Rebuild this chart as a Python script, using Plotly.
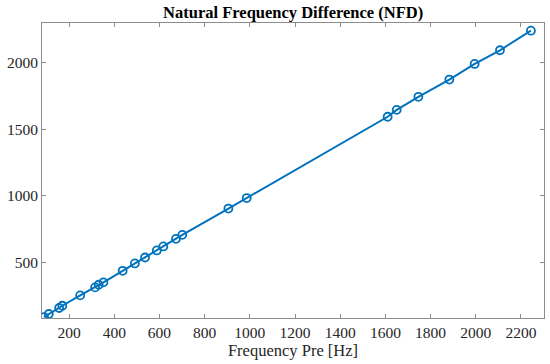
import plotly.graph_objects as go

freq_pre = [89, 110, 156, 170, 249, 315, 331, 352, 437, 491, 536, 588, 617, 673, 701,
            905, 986, 1610, 1650, 1746, 1883, 1995, 2107, 2244]
nfd = [87, 110, 155, 172, 250, 310, 330, 348, 435, 490, 535, 588, 618, 675, 705,
       903, 982, 1593, 1645, 1743, 1873, 1990, 2093, 2240]

x_ticks = [200, 400, 600, 800, 1000, 1200, 1400, 1600, 1800, 2000, 2200]
y_ticks = [500, 1000, 1500, 2000]

color = "#0072BD"
font_family = "Liberation Serif, DejaVu Serif, serif"

fig = go.Figure()
fig.add_trace(go.Scatter(
    x=freq_pre, y=nfd, mode="lines+markers",
    line=dict(color=color, width=2),
    marker=dict(symbol="circle-open", size=8, color=color, line=dict(width=1.8, color=color)),
    showlegend=False,
))

axis_common = dict(
    showgrid=False, zeroline=False, showline=True, mirror="ticks",
    linecolor="#8c8c8c", linewidth=1, ticks="inside", ticklen=4,
    tickcolor="#8c8c8c", tickfont=dict(family=font_family, size=15.5, color="#262626"),
    automargin=False,
)

fig.update_layout(
    width=550, height=364,
    margin=dict(l=42, r=6, t=23, b=46),
    plot_bgcolor="white", paper_bgcolor="white",
    title=dict(text="<b>Natural Frequency Difference (NFD)</b>", x=0.533, xanchor="center",
               y=0.967, yanchor="middle",
               font=dict(family=font_family, size=16.5, color="black")),
    xaxis=dict(range=[80, 2302], tickvals=x_ticks,
               title=dict(text="Frequency Pre [Hz]", standoff=2,
                          font=dict(family=font_family, size=16.5, color="#262626")),
               **axis_common),
    yaxis=dict(range=[80, 2298], tickvals=y_ticks, **axis_common),
)

fig.write_html("out.html", config={"displayModeBar": False},
               post_script="document.body.style.margin='0';document.body.style.padding='0';")
